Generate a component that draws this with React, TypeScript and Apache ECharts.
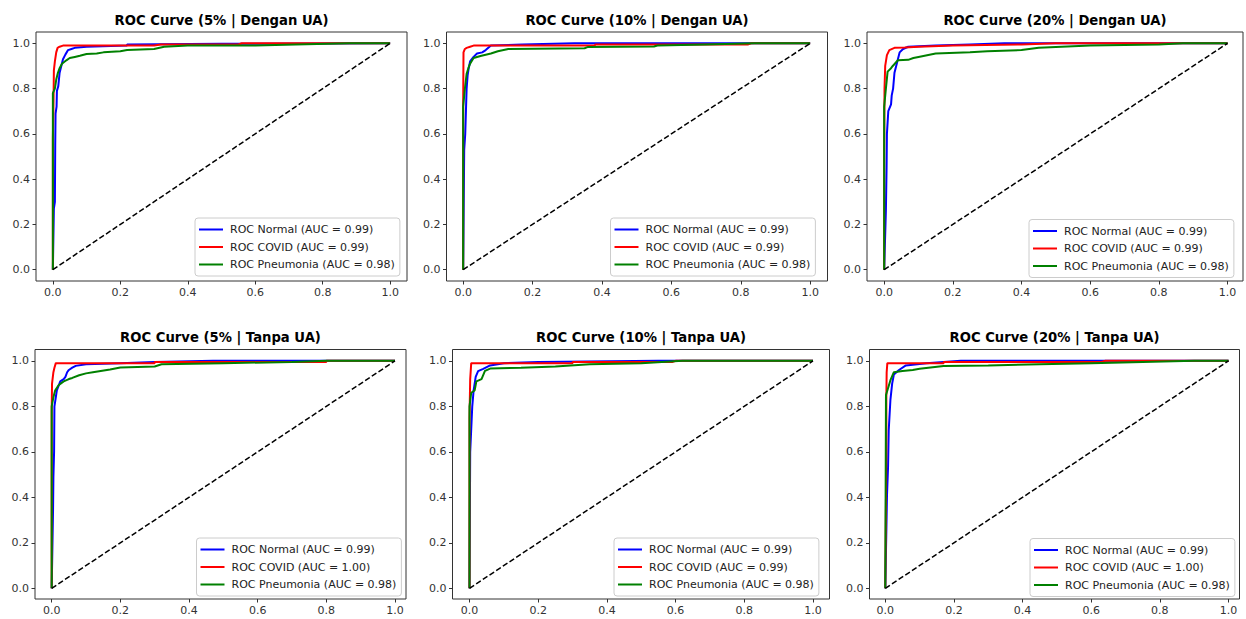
import React, { useEffect, useRef } from "react";
import * as echarts from "echarts";

// ---------- data ----------
const tickValues = [0, 0.2, 0.4, 0.6, 0.8, 1.0];

const panelTitles = [
  "ROC Curve (5% | Dengan UA)",
  "ROC Curve (10% | Dengan UA)",
  "ROC Curve (20% | Dengan UA)",
  "ROC Curve (5% | Tanpa UA)",
  "ROC Curve (10% | Tanpa UA)",
  "ROC Curve (20% | Tanpa UA)",
];

const aucNormal = ["0.99", "0.99", "0.99", "0.99", "0.99", "0.99"];
const aucCovid = ["0.99", "0.99", "0.99", "1.00", "0.99", "1.00"];
const aucPneumonia = ["0.98", "0.98", "0.98", "0.98", "0.98", "0.98"];

const diagonal = [[0, 0], [1, 1]];

// Panel 1: 5% | Dengan UA
const p1Normal = [[0, 0], [0.003, 0.27], [0.006, 0.3], [0.007, 0.55], [0.008, 0.69], [0.011, 0.72], [0.012, 0.79], [0.016, 0.81], [0.02, 0.87], [0.025, 0.9], [0.03, 0.93], [0.037, 0.95], [0.045, 0.97], [0.055, 0.975], [0.065, 0.98], [0.1, 0.985], [0.22, 0.99], [0.22, 0.995], [0.5, 0.998], [0.5, 1], [1, 1]];
const p1Covid = [[0, 0], [0, 0.58], [0.002, 0.75], [0.003, 0.88], [0.006, 0.92], [0.01, 0.96], [0.014, 0.98], [0.02, 0.985], [0.03, 0.99], [0.3, 0.99], [0.32, 0.995], [0.55, 0.995], [0.56, 1], [1, 1]];
const p1Pneumonia = [[0, 0], [0, 0.78], [0.006, 0.8], [0.01, 0.84], [0.015, 0.87], [0.02, 0.89], [0.027, 0.91], [0.04, 0.925], [0.05, 0.935], [0.065, 0.94], [0.08, 0.945], [0.1, 0.953], [0.13, 0.955], [0.15, 0.96], [0.2, 0.965], [0.22, 0.97], [0.3, 0.975], [0.33, 0.985], [0.4, 0.99], [0.6, 0.99], [0.72, 0.995], [0.88, 1], [1, 1]];

// Panel 2: 10% | Dengan UA
const p2Normal = [[0, 0], [0.003, 0.53], [0.006, 0.6], [0.008, 0.7], [0.01, 0.8], [0.013, 0.86], [0.016, 0.89], [0.02, 0.92], [0.03, 0.94], [0.04, 0.955], [0.055, 0.96], [0.065, 0.97], [0.08, 0.99], [0.17, 0.995], [0.32, 1], [1, 1]];
const p2Covid = [[0, 0], [0, 0.72], [0.001, 0.96], [0.005, 0.975], [0.01, 0.98], [0.02, 0.985], [0.03, 0.99], [0.38, 0.99], [0.38, 0.995], [0.82, 0.995], [0.83, 1], [1, 1]];
const p2Pneumonia = [[0, 0], [0, 0.72], [0.005, 0.8], [0.01, 0.865], [0.015, 0.89], [0.02, 0.91], [0.03, 0.935], [0.05, 0.944], [0.08, 0.955], [0.1, 0.965], [0.13, 0.975], [0.35, 0.978], [0.36, 0.984], [0.55, 0.986], [0.56, 0.99], [0.7, 0.995], [0.84, 1], [1, 1]];

// Panel 3: 20% | Dengan UA
const p3Normal = [[0, 0], [0.005, 0.26], [0.007, 0.45], [0.008, 0.6], [0.012, 0.7], [0.02, 0.73], [0.022, 0.77], [0.026, 0.8], [0.03, 0.87], [0.035, 0.9], [0.04, 0.93], [0.045, 0.96], [0.055, 0.975], [0.07, 0.985], [0.15, 0.99], [0.25, 0.995], [0.35, 1], [1, 1]];
const p3Covid = [[0, 0], [0, 0.52], [0.001, 0.8], [0.003, 0.9], [0.008, 0.948], [0.015, 0.97], [0.03, 0.98], [0.06, 0.982], [0.1, 0.985], [0.2, 0.99], [0.4, 0.995], [0.5, 1], [1, 1]];
const p3Pneumonia = [[0, 0], [0, 0.72], [0.005, 0.8], [0.01, 0.875], [0.02, 0.89], [0.025, 0.9], [0.04, 0.925], [0.07, 0.927], [0.085, 0.935], [0.1, 0.94], [0.15, 0.955], [0.25, 0.96], [0.3, 0.965], [0.4, 0.97], [0.45, 0.98], [0.6, 0.99], [0.8, 0.995], [0.87, 1], [1, 1]];

// Panel 4: 5% | Tanpa UA
const p4Normal = [[0, 0], [0.004, 0.35], [0.005, 0.49], [0.007, 0.6], [0.008, 0.8], [0.012, 0.84], [0.015, 0.87], [0.02, 0.89], [0.025, 0.91], [0.035, 0.92], [0.04, 0.93], [0.045, 0.95], [0.05, 0.96], [0.06, 0.97], [0.07, 0.978], [0.1, 0.985], [0.2, 0.99], [0.3, 0.995], [0.47, 1], [1, 1]];
const p4Covid = [[0, 0], [0, 0.78], [0.001, 0.9], [0.005, 0.95], [0.008, 0.97], [0.012, 0.99], [0.3, 0.99], [0.3, 0.995], [0.8, 0.995], [0.8, 1], [1, 1]];
const p4Pneumonia = [[0, 0], [0, 0.8], [0.005, 0.84], [0.01, 0.87], [0.02, 0.893], [0.035, 0.91], [0.05, 0.92], [0.06, 0.925], [0.08, 0.937], [0.1, 0.945], [0.12, 0.95], [0.17, 0.962], [0.2, 0.971], [0.3, 0.975], [0.32, 0.985], [0.5, 0.99], [0.7, 0.995], [0.8, 1], [1, 1]];

// Panel 5: 10% | Tanpa UA
const p5Normal = [[0, 0], [0.002, 0.6], [0.005, 0.7], [0.008, 0.8], [0.012, 0.87], [0.018, 0.93], [0.025, 0.955], [0.04, 0.965], [0.06, 0.98], [0.1, 0.99], [0.2, 0.995], [0.55, 1], [1, 1]];
const p5Covid = [[0, 0], [0, 0.75], [0.002, 0.92], [0.005, 0.99], [0.3, 0.99], [0.3, 0.995], [0.59, 0.995], [0.6, 1], [1, 1]];
const p5Pneumonia = [[0, 0], [0, 0.8], [0.005, 0.86], [0.015, 0.87], [0.02, 0.91], [0.035, 0.92], [0.045, 0.956], [0.06, 0.966], [0.15, 0.97], [0.25, 0.975], [0.35, 0.985], [0.5, 0.99], [0.62, 1], [1, 1]];

// Panel 6: 20% | Tanpa UA
const p6Normal = [[0, 0], [0.005, 0.41], [0.008, 0.53], [0.01, 0.695], [0.015, 0.83], [0.02, 0.9], [0.025, 0.94], [0.04, 0.96], [0.06, 0.98], [0.12, 0.99], [0.22, 1], [1, 1]];
const p6Covid = [[0, 0], [0.003, 0.6], [0.003, 0.83], [0.004, 0.95], [0.006, 0.99], [0.17, 0.99], [0.17, 0.995], [0.63, 0.995], [0.64, 1], [1, 1]];
const p6Pneumonia = [[0, 0], [0.002, 0.85], [0.008, 0.88], [0.015, 0.915], [0.025, 0.95], [0.05, 0.955], [0.08, 0.96], [0.1, 0.965], [0.17, 0.977], [0.3, 0.98], [0.45, 0.985], [0.6, 0.99], [0.9, 1], [1, 1]];

const normalCurves = [p1Normal, p2Normal, p3Normal, p4Normal, p5Normal, p6Normal];
const covidCurves = [p1Covid, p2Covid, p3Covid, p4Covid, p5Covid, p6Covid];
const pneumoniaCurves = [p1Pneumonia, p2Pneumonia, p3Pneumonia, p4Pneumonia, p5Pneumonia, p6Pneumonia];

// ---------- layout (pixels / axis extents) ----------
const panels = [
  { left: 36, top: 32, width: 371, height: 249, xMin: -0.05, xMax: 1.05, yMin: -0.05, yMax: 1.05, legendLeft: 195, legendTop: 218, titleTop: 13.5 },
  { left: 446.5, top: 32, width: 381, height: 249, xMin: -0.048, xMax: 1.05, yMin: -0.05, yMax: 1.05, legendLeft: 610.5, legendTop: 218, titleTop: 13.5 },
  { left: 867, top: 32, width: 376, height: 249, xMin: -0.05, xMax: 1.045, yMin: -0.05, yMax: 1.05, legendLeft: 1029, legendTop: 219.5, titleTop: 13.5 },
  { left: 35, top: 349.5, width: 371, height: 249.5, xMin: -0.0486, xMax: 1.032, yMin: -0.047, yMax: 1.05, legendLeft: 196.5, legendTop: 538, titleTop: 330.5 },
  { left: 452.5, top: 349.5, width: 377, height: 249.5, xMin: -0.0495, xMax: 1.048, yMin: -0.047, yMax: 1.05, legendLeft: 614, legendTop: 538, titleTop: 330.5 },
  { left: 869.5, top: 349.5, width: 370, height: 249.5, xMin: -0.046, xMax: 1.032, yMin: -0.047, yMax: 1.05, legendLeft: 1030, legendTop: 538.5, titleTop: 330.5 },
];

const FONT = "DejaVu Sans";
const BLUE = "#0000ff";
const RED = "#ff0000";
const GREEN = "#008000";

function buildOption() {
  const grid: any[] = [];
  const xAxis: any[] = [];
  const yAxis: any[] = [];
  const series: any[] = [];
  const title: any[] = [];
  const legend: any[] = [];

  panels.forEach((p, i) => {
    grid.push({
      left: p.left,
      top: p.top,
      width: p.width,
      height: p.height,
      show: true,
      borderColor: "#333",
      borderWidth: 1,
      backgroundColor: "#fff",
      containLabel: false,
    });
    const axisCommon = {
      gridIndex: i,
      type: "value",
      axisLine: { show: false, onZero: false },
      splitLine: { show: false },
      axisTick: {
        show: true,
        inside: false,
        length: 3.5,
        customValues: tickValues,
        lineStyle: { color: "#333", width: 1 },
      },
      axisLabel: {
        show: true,
        customValues: tickValues,
        formatter: (v: number) => v.toFixed(1),
        fontSize: 11,
        color: "#333",
        fontFamily: FONT,
        margin: 6,
      },
    };
    xAxis.push({ ...axisCommon, min: p.xMin, max: p.xMax });
    yAxis.push({ ...axisCommon, min: p.yMin, max: p.yMax });

    const nName = `ROC Normal (AUC = ${aucNormal[i]})`;
    const cName = `ROC COVID (AUC = ${aucCovid[i]})`;
    const gName = `ROC Pneumonia (AUC = ${aucPneumonia[i]})`;

    const lineCommon = {
      type: "line",
      xAxisIndex: i,
      yAxisIndex: i,
      symbol: "none",
      showSymbol: false,
      silent: true,
    };
    series.push({ ...lineCommon, name: nName, data: normalCurves[i], lineStyle: { color: BLUE, width: 2 }, itemStyle: { color: BLUE } });
    series.push({ ...lineCommon, name: cName, data: covidCurves[i], lineStyle: { color: RED, width: 2 }, itemStyle: { color: RED } });
    series.push({ ...lineCommon, name: gName, data: pneumoniaCurves[i], lineStyle: { color: GREEN, width: 2 }, itemStyle: { color: GREEN } });
    series.push({ ...lineCommon, name: `diag${i}`, data: diagonal, lineStyle: { color: "#000", width: 1.5, type: [5.5, 2.5] }, itemStyle: { color: "#000" } });

    title.push({
      text: panelTitles[i],
      left: p.left + p.width / 2,
      top: p.titleTop,
      textAlign: "center",
      padding: 0,
      textStyle: { fontSize: 13.2, fontWeight: "bold", color: "#000", fontFamily: FONT },
    });

    legend.push({
      left: p.legendLeft,
      top: p.legendTop,
      orient: "vertical",
      icon: "rect",
      itemWidth: 24,
      itemHeight: 2,
      itemGap: 4.5,
      padding: [5, 5, 5, 4],
      backgroundColor: "rgba(255,255,255,0.85)",
      borderColor: "#cccccc",
      borderWidth: 1,
      borderRadius: 3,
      selectedMode: false,
      textStyle: { fontSize: 11, color: "#222", fontFamily: FONT, lineHeight: 13, padding: [0, 0, 0, 2] },
      data: [
        { name: nName, itemStyle: { color: BLUE } },
        { name: cName, itemStyle: { color: RED } },
        { name: gName, itemStyle: { color: GREEN } },
      ],
    });
  });

  return {
    animation: false,
    backgroundColor: "#fff",
    textStyle: { fontFamily: FONT },
    title,
    legend,
    grid,
    xAxis,
    yAxis,
    series,
  };
}

export default function App() {
  const ref = useRef<HTMLDivElement>(null);
  useEffect(() => {
    if (!ref.current) return;
    const chart = echarts.init(ref.current, null, { renderer: "svg" });
    chart.setOption(buildOption() as any);
    return () => chart.dispose();
  }, []);
  return (
    <div
      ref={ref}
      style={{ position: "fixed", left: 0, top: 0, width: 1246, height: 619, background: "#fff" }}
    />
  );
}
